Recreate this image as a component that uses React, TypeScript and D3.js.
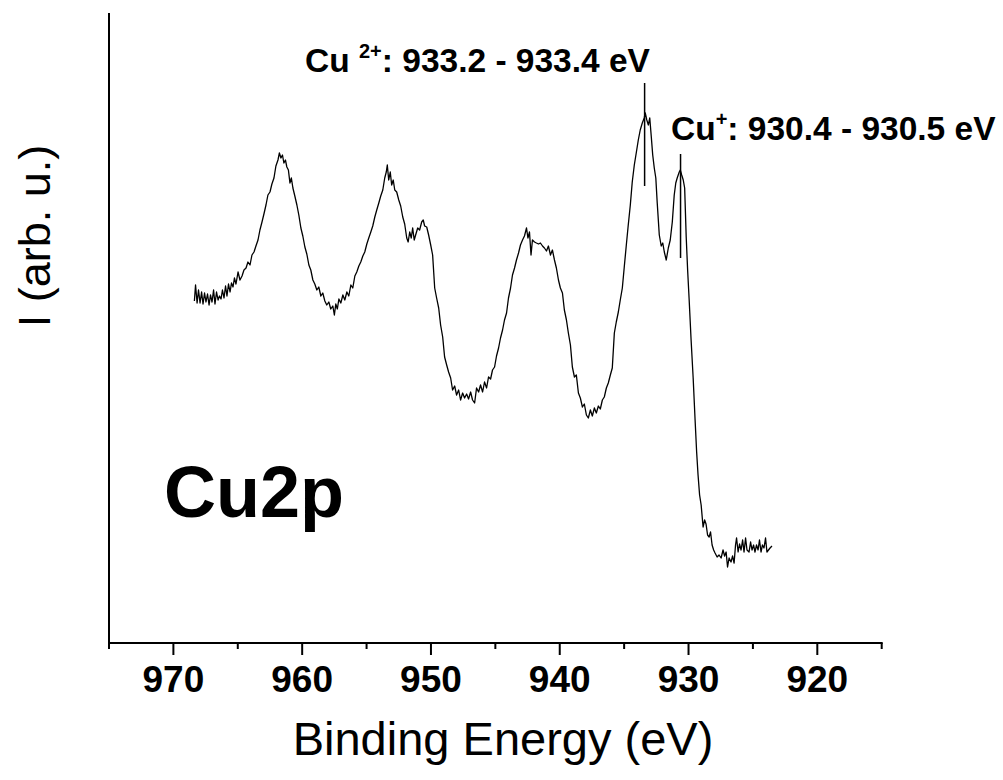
import React from "react";
import * as d3 from "d3";

// Cu2p XPS spectrum: [binding energy (eV), intensity (arb. u.)]
const spectrum: [number, number][] = [
  [968.37,342],[968.28,358],[968.16,340],[968.05,353],[967.93,340],[967.81,351],[967.70,339],[967.58,350],
  [967.47,341],[967.35,349],[967.23,338],[967.12,348],[967.00,341],[966.88,353],[966.77,339],[966.65,351],
  [966.53,343],[966.42,347],[966.30,344],[966.19,353],[966.07,345],[965.95,357],[965.84,347],[965.72,359],
  [965.60,351],[965.49,360],[965.37,356],[965.26,365],[965.14,359],[964.98,371],[964.83,363],[964.67,367],
  [964.52,373],[964.36,375],[964.21,381],[964.05,378],[963.90,388],[963.74,391],[963.59,397],[963.43,403],
  [963.28,413],[963.12,421],[962.97,429],[962.81,438],[962.66,448],[962.50,451],[962.35,459],[962.19,465],
  [962.04,477],[961.88,483],[961.77,490],[961.65,485],[961.53,488],[961.42,480],[961.30,483],[961.19,476],
  [961.07,473],[960.95,460],[960.84,465],[960.72,455],[960.57,447],[960.41,438],[960.26,428],[960.10,415],
  [959.95,407],[959.79,396],[959.64,389],[959.48,378],[959.33,373],[959.17,363],[959.02,359],[958.86,353],
  [958.71,356],[958.55,347],[958.40,350],[958.24,342],[958.09,338],[957.93,341],[957.78,334],[957.62,337],
  [957.50,328],[957.39,339],[957.27,334],[957.15,344],[957.00,340],[956.84,348],[956.69,343],[956.53,351],
  [956.38,347],[956.22,358],[956.07,355],[955.91,367],[955.76,371],[955.60,377],[955.45,381],[955.29,387],
  [955.14,391],[954.98,399],[954.83,405],[954.67,411],[954.52,417],[954.36,426],[954.21,433],[954.05,440],
  [953.90,447],[953.74,453],[953.59,465],[953.47,471],[953.39,478],[953.28,463],[953.16,471],[953.05,458],
  [952.93,463],[952.81,453],[952.66,451],[952.50,443],[952.35,437],[952.19,426],[952.04,419],[951.88,405],
  [951.77,401],[951.65,411],[951.53,405],[951.42,415],[951.30,403],[951.19,408],[951.03,415],[950.88,413],
  [950.72,421],[950.60,423],[950.49,417],[950.33,416],[950.18,408],[950.02,398],[949.87,388],[949.71,355],
  [949.56,345],[949.40,335],[949.25,318],[949.09,306],[948.94,286],[948.78,278],[948.63,271],[948.47,265],
  [948.32,253],[948.16,257],[948.01,248],[947.85,253],[947.70,243],[947.54,250],[947.39,245],[947.23,249],
  [947.08,244],[946.92,251],[946.77,243],[946.61,240],[946.46,255],[946.30,251],[946.15,258],[945.99,251],
  [945.84,261],[945.68,255],[945.53,266],[945.37,264],[945.22,273],[945.06,276],[944.91,287],[944.75,295],
  [944.60,305],[944.44,313],[944.29,323],[944.13,330],[943.98,345],[943.82,355],[943.67,368],[943.51,375],
  [943.36,383],[943.20,390],[943.05,398],[942.89,403],[942.74,407],[942.58,415],[942.47,405],[942.35,411],
  [942.23,388],[942.12,403],[941.96,401],[941.81,400],[941.65,399],[941.50,400],[941.34,397],[941.19,395],
  [941.03,392],[940.88,397],[940.72,388],[940.57,393],[940.41,383],[940.26,375],[940.10,363],[939.95,355],
  [939.79,350],[939.64,333],[939.48,323],[939.33,310],[939.17,298],[939.02,276],[938.86,266],[938.71,268],
  [938.55,250],[938.40,245],[938.24,236],[938.09,239],[937.93,228],[937.78,225],[937.62,233],[937.47,227],
  [937.31,235],[937.16,230],[937.00,237],[936.85,234],[936.69,243],[936.54,246],[936.38,255],[936.23,260],
  [936.07,268],[935.92,275],[935.76,310],[935.61,321],[935.45,331],[935.30,343],[935.14,355],[934.99,376],
  [934.83,398],[934.68,418],[934.52,438],[934.37,461],[934.21,478],[934.06,490],[933.90,503],[933.75,513],
  [933.59,520],[933.44,525],[933.36,530],[933.24,523],[933.12,518],[933.01,525],[932.89,506],[932.78,488],
  [932.66,475],[932.54,465],[932.43,440],[932.27,408],[932.12,397],[932.00,400],[931.88,391],[931.73,383],
  [931.57,395],[931.42,403],[931.26,421],[931.11,448],[930.99,460],[930.88,465],[930.72,471],[930.64,473],
  [930.53,468],[930.41,463],[930.30,455],[930.18,406],[930.07,373],[929.95,343],[929.80,303],[929.64,265],
  [929.49,223],[929.37,191],[929.26,168],[929.14,148],[929.02,138],[928.87,116],[928.75,123],[928.64,119],
  [928.52,108],[928.40,106],[928.29,111],[928.17,98],[928.05,93],[927.94,90],[927.78,86],[927.63,88],
  [927.47,85],[927.32,93],[927.20,87],[927.08,91],[926.97,76],[926.85,85],[926.70,81],[926.58,87],
  [926.46,80],[926.35,98],[926.27,105],[926.15,91],[926.04,99],[925.92,93],[925.80,103],[925.69,91],
  [925.57,105],[925.46,93],[925.30,91],[925.18,101],[925.07,93],[924.95,98],[924.84,91],[924.72,98],
  [924.60,93],[924.49,103],[924.37,91],[924.26,98],[924.14,95],[924.02,105],[923.91,91],[923.79,93],
  [923.67,95],[923.52,97],
];

// Tick values (eV)
const majorTicks = [970, 960, 950, 940, 930, 920];
const minorTicks = [975, 965, 955, 945, 935, 925, 915];

// Peak marker lines: energy, intensity from, intensity to
const markerEnergies = [933.41, 930.62];
const markerTop = [560, 489];
const markerBottom = [457, 385];

const FONT = "'Liberation Sans', Arial, Helvetica, sans-serif";

export default function App() {
  const W = 1003, H = 780;
  const x = d3.scaleLinear().domain([975, 915]).range([109, 881.7]);
  const y = d3.scaleLinear().domain([0, 630]).range([643, 13]);
  const axisY = y(0);

  const line = d3
    .line<[number, number]>()
    .x((d) => x(d[0]))
    .y((d) => y(d[1]));

  return (
    <svg
      width={W}
      height={H}
      viewBox={`0 0 ${W} ${H}`}
      style={{ position: "absolute", left: 0, top: 0, background: "#fff" }}
      fontFamily={FONT}
    >
      <rect x={0} y={0} width={W} height={H} fill="#fff" />
      {/* spectrum */}
      <path d={line(spectrum) || ""} fill="none" stroke="#000" strokeWidth={1.3} strokeLinejoin="round" />

      {/* marker lines */}
      {markerEnergies.map((e, i) => (
        <line
          key={i}
          x1={x(e)}
          x2={x(e)}
          y1={y(markerTop[i])}
          y2={y(markerBottom[i])}
          stroke="#000"
          strokeWidth={1.5}
        />
      ))}

      {/* axes */}
      <line x1={109} x2={109} y1={y(630)} y2={axisY + 1} stroke="#000" strokeWidth={2} />
      <line x1={108} x2={x(915) + 1} y1={axisY} y2={axisY} stroke="#000" strokeWidth={2} />
      {majorTicks.map((t) => (
        <g key={"M" + t}>
          <line x1={x(t)} x2={x(t)} y1={axisY} y2={axisY + 12} stroke="#000" strokeWidth={2} />
          <text x={x(t)} y={692} textAnchor="middle" fontSize={37} fontWeight="bold">
            {t}
          </text>
        </g>
      ))}
      {minorTicks.map((t) => (
        <line key={"m" + t} x1={x(t)} x2={x(t)} y1={axisY} y2={axisY + 6} stroke="#000" strokeWidth={2} />
      ))}

      {/* axis titles */}
      <text x={503} y={755} textAnchor="middle" fontSize={47}>
        Binding Energy (eV)
      </text>
      <text transform="translate(50,236) rotate(-90)" textAnchor="middle" fontSize={45}>
        I (arb. u.)
      </text>

      {/* labels */}
      <text x={164} y={517} fontSize={72} fontWeight="bold">
        Cu2p
      </text>
      <text x={305} y={72} fontSize={33.5} fontWeight="bold">
        Cu <tspan fontSize={20} dy={-14}>2+</tspan>
        <tspan dy={14}>: 933.2 - 933.4 eV</tspan>
      </text>
      <text x={671} y={140} fontSize={33.5} fontWeight="bold">
        Cu<tspan fontSize={20} dy={-14}>+</tspan>
        <tspan dy={14}>: 930.4 - 930.5 eV</tspan>
      </text>
    </svg>
  );
}
